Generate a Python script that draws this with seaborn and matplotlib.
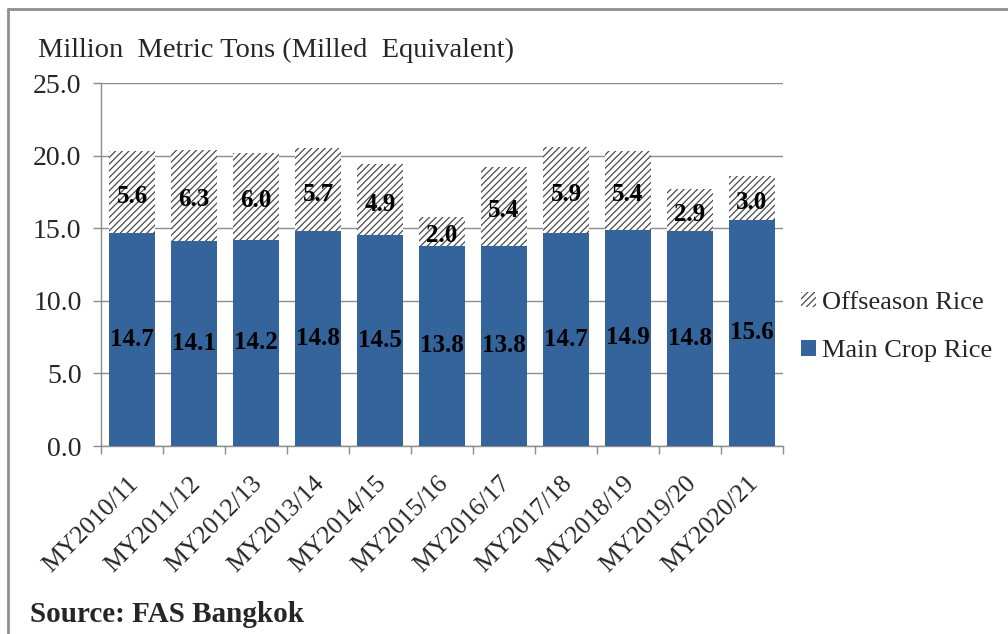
import matplotlib
matplotlib.use("Agg")
import matplotlib.pyplot as plt
import matplotlib.transforms as mtransforms
from matplotlib.patches import Patch
from matplotlib.lines import Line2D
import seaborn as sns
import pandas as pd
import numpy as np

# Thai rice production by marketing year (million metric tons, milled equivalent)
years = ["MY2010/11", "MY2011/12", "MY2012/13", "MY2013/14", "MY2014/15", "MY2015/16",
         "MY2016/17", "MY2017/18", "MY2018/19", "MY2019/20", "MY2020/21"]
main_crop = [14.7, 14.1, 14.2, 14.8, 14.5, 13.8, 13.8, 14.7, 14.9, 14.8, 15.6]
offseason = [5.6, 6.3, 6.0, 5.7, 4.9, 2.0, 5.4, 5.9, 5.4, 2.9, 3.0]
y_ticks = [0.0, 5.0, 10.0, 15.0, 20.0, 25.0]

BLUE = "#33649b"
HATCH_INK = "#4a4a4a"
GRID = "#8c8c8c"
SERIF = "Liberation Serif"
HATCH = "/////"

sns.set_style("white")
plt.rcParams["font.family"] = SERIF
plt.rcParams["hatch.color"] = HATCH_INK
plt.rcParams["hatch.linewidth"] = 0.9

df = pd.DataFrame({"year": years, "main": main_crop, "off": offseason})
df["total"] = df["main"] + df["off"]

fig = plt.figure(figsize=(10.08, 6.34), dpi=100)
ax = fig.add_axes([0.1002, 0.2965, 0.6766, 0.5725])

# Stacked bars: full-height hatched bar first, main crop drawn over its lower part
sns.barplot(data=df, x="year", y="total", ax=ax, color="white", width=0.73,
            edgecolor=HATCH_INK, linewidth=0, hatch=HATCH, saturation=1, zorder=2)
sns.barplot(data=df, x="year", y="main", ax=ax, color=BLUE, width=0.73,
            edgecolor=BLUE, linewidth=0, saturation=1, zorder=3)

ax.set_xlim(-0.5, len(years) - 0.5)
ax.set_ylim(0, 25)
ax.set_yticks(y_ticks)
ax.set_yticklabels([f"{v:.1f}" for v in y_ticks], fontsize=20, family=SERIF)
ax.set_xlabel("")
ax.set_ylabel("")

ax.yaxis.grid(True, color=GRID, linewidth=1.0, zorder=0)
ax.set_axisbelow(True)
for side in ("top", "right"):
    ax.spines[side].set_visible(False)
for side in ("left", "bottom"):
    ax.spines[side].set_color(GRID)
    ax.spines[side].set_linewidth(1.0)

ax.tick_params(axis="y", which="major", direction="out", length=6, color=GRID, width=1, pad=8, left=True)
ax.tick_params(axis="x", which="major", length=0, pad=19)
ax.set_xticks(np.arange(-0.5, len(years), 1.0), minor=True)
ax.tick_params(axis="x", which="minor", direction="out", length=6, color=GRID, width=1, bottom=True)
ax.set_xticks(range(len(years)))
ax.set_xticklabels(years, rotation=45, ha="right", rotation_mode="anchor",
                   fontsize=18.5, family=SERIF)
shift = mtransforms.ScaledTranslation(-5 / 100, 0, fig.dpi_scale_trans)
for lbl in ax.get_xticklabels():
    lbl.set_transform(lbl.get_transform() + shift)

# Value labels
for i, (m, o) in enumerate(zip(main_crop, offseason)):
    ax.text(i, m / 2, f"{m:.1f}", ha="center", va="center", fontsize=18,
            fontweight="bold", family=SERIF, color="black", zorder=5)
    ax.text(i, m + o / 2 - 0.3, f"{o:.1f}", ha="center", va="center", fontsize=18,
            fontweight="bold", family=SERIF, color="black", zorder=5)

fig.text(38 / 1008, 1 - 50 / 634, "Million  Metric Tons (Milled  Equivalent)",
         fontsize=20.5, family=SERIF, ha="left", va="center")
fig.text(30 / 1008, 1 - 614 / 634, "Source: FAS Bangkok", fontsize=21,
         fontweight="bold", family=SERIF, ha="left", va="center")

handles = [Patch(facecolor="white", edgecolor=HATCH_INK, linewidth=0, hatch=HATCH),
           Patch(facecolor=BLUE, edgecolor=BLUE, linewidth=0)]
fig.legend(handles, ["Offseason Rice", "Main Crop Rice"], loc="center left",
           bbox_to_anchor=(788 / 1008, 1 - 327 / 634), frameon=False,
           prop={"family": SERIF, "size": 19},
           handlelength=0.55, handleheight=0.55, handletextpad=0.25, labelspacing=1.0,
           borderpad=0)

# Outer frame
fig.add_artist(Line2D([8 / 1008, 1.0], [1 - 9 / 634] * 2, color="#8f8f8f", linewidth=2,
                      transform=fig.transFigure))
fig.add_artist(Line2D([8 / 1008] * 2, [0.0, 1 - 9 / 634], color="#8f8f8f", linewidth=2,
                      transform=fig.transFigure))

fig.savefig("out.png", dpi=100)
